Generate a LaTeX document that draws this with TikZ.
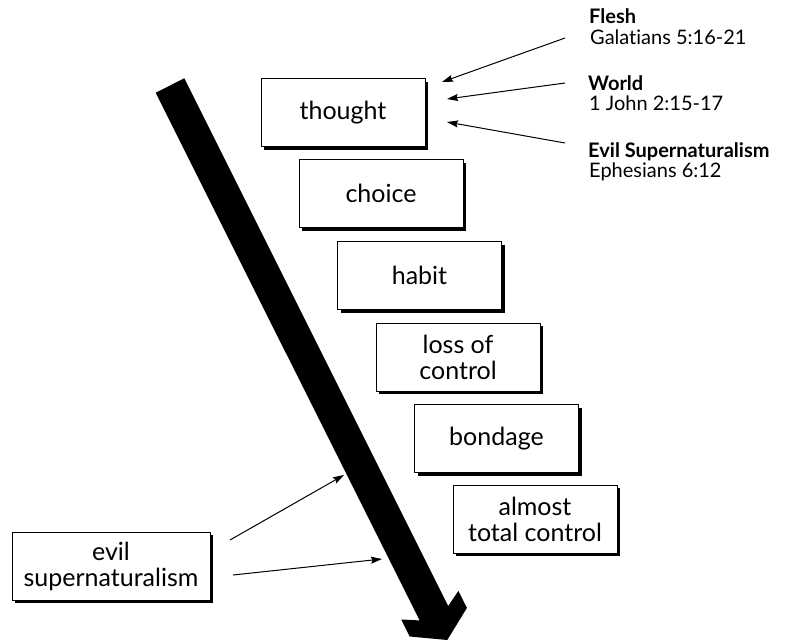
\documentclass[tikz,border=0pt]{standalone}
\usepackage{fontspec}
\setmainfont{Lato}[Ligatures=NoCommon]
\usetikzlibrary{shadows,arrows.meta}
\begin{document}
\begin{tikzpicture}[x=1pt,y=-1pt,
  stepbox/.style={draw, line width=0.8pt, fill=white, minimum width=164pt, minimum height=68pt,
    inner sep=0pt, align=center, font=\fontsize{25}{26}\selectfont,
    drop shadow={shadow xshift=3pt, shadow yshift=-3pt, fill=black, opacity=1}},
  src/.style={anchor=base west, inner sep=0pt, font=\fontsize{20}{21}\selectfont\bfseries},
  ref/.style={anchor=base west, inner sep=0pt, font=\fontsize{20}{21}\selectfont},
  ptr/.style={line width=1pt, -{Stealth[length=11pt, width=7pt, inset=1.5pt]}}]
\useasboundingbox (0,0) rectangle (788,640);
\begin{scope}
\clip (0,0) rectangle (788,640);
\fill (184.3,78.3) -- (448.2,606.0) -- (458.4,590.9) -- (466.9,607.9) -- (447.3,640) -- (409.7,636.5) -- (401.2,619.5) -- (419.6,620.4) -- (155.7,92.7) -- cycle;
\end{scope}
\node[stepbox] (thought) at (343,112.5) {thought};
\node[stepbox] (choice) at (381,193.5) {choice};
\node[stepbox] (habit) at (419.5,275.5) {habit};
\node[stepbox] (loss) at (458,357) {loss of\\control};
\node[stepbox] (bondage) at (496.5,438.5) {bondage};
\node[stepbox] (almost) at (535,519) {almost\\total control};
\node[stepbox, minimum width=198pt] (evil) at (111,566) {evil\\supernaturalism};
\node[src] (flesh) at (589,23) {Flesh};
\node[ref] (fleshref) at (590,44) {Galatians 5:16-21};
\node[src] (world) at (588,90) {World};
\node[ref] (worldref) at (589,110) {1 John 2:15-17};
\node[src] (evilsup) at (588,157) {Evil Supernaturalism};
\node[ref] (evilref) at (589,177) {Ephesians 6:12};
\coordinate (f1) at (565,38); \coordinate (f2) at (442,82);
\coordinate (w1) at (565,83); \coordinate (w2) at (447,99);
\coordinate (e1) at (565,143); \coordinate (e2) at (447,122);
\coordinate (b1) at (230,540); \coordinate (b2) at (344,475);
\coordinate (c1) at (233,575); \coordinate (c2) at (382,559);
\draw[ptr] (f1) -- (f2);
\draw[ptr] (w1) -- (w2);
\draw[ptr] (e1) -- (e2);
\draw[ptr] (b1) -- (b2);
\draw[ptr] (c1) -- (c2);
\end{tikzpicture}
\end{document}
